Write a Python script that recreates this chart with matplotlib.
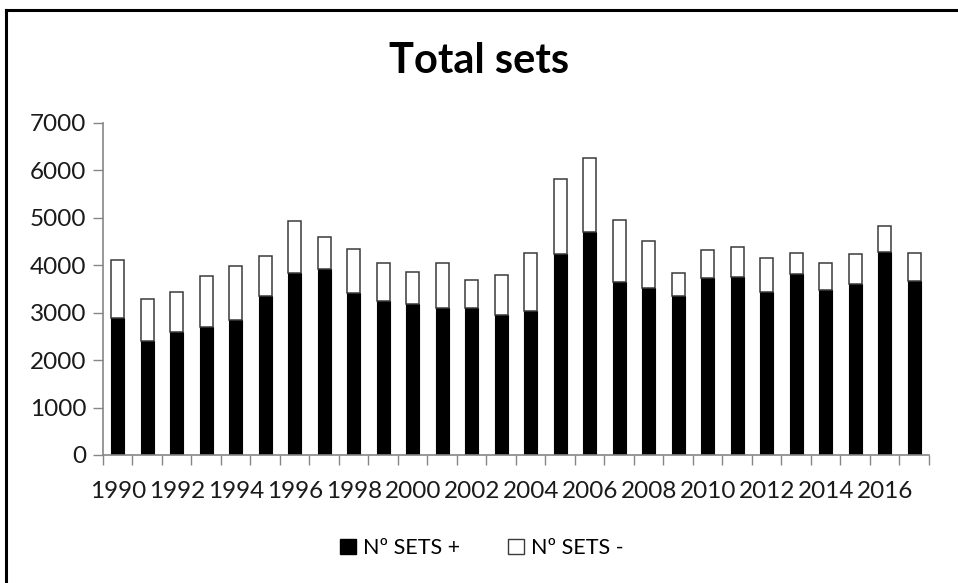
import matplotlib.pyplot as plt
import numpy as np
from matplotlib.lines import Line2D
from matplotlib.patches import Patch

plt.rcParams["font.family"] = ["Lato", "DejaVu Sans"]

years = list(range(1990, 2018))
# Nº SETS + (black part)
sets_plus = [2890, 2410, 2590, 2700, 2840, 3340, 3830, 3910, 3410, 3240,
             3180, 3100, 3100, 2940, 3030, 4230, 4690, 3640, 3510, 3340,
             3720, 3750, 3430, 3810, 3480, 3600, 4270, 3670]
# bar totals
totals = [4110, 3290, 3430, 3780, 3990, 4200, 4930, 4600, 4340, 4040,
          3850, 4040, 3690, 3800, 4250, 5820, 6250, 4960, 4500, 3830,
          4310, 4390, 4150, 4250, 4040, 4230, 4820, 4250]
sets_minus = [t - p for t, p in zip(totals, sets_plus)]

axis_grey = "#868686"

fig = plt.figure(figsize=(9.58, 5.83), dpi=100)
ax = fig.add_axes([0.1075, 0.2196, 0.8622, 0.5699])

x = np.arange(len(years))
ax.bar(x, sets_plus, width=0.43, color="black", edgecolor="black", linewidth=0.8)
ax.bar(x, sets_minus, width=0.43, bottom=sets_plus, color="white",
       edgecolor="#3a3a3a", linewidth=1.1)

ax.set_xlim(-0.5, len(years) - 0.5)
ax.set_ylim(0, 7000)
ax.set_yticks(range(0, 7001, 1000))

# tick marks between categories, labels every other year
ax.set_xticks(np.arange(-0.5, len(years), 1))
ax.set_xticklabels([])
ax.set_xticks(x[::2], minor=True)
ax.set_xticklabels([str(y) for y in years[::2]], minor=True)
ax.tick_params(axis="x", which="major", length=7, color=axis_grey, width=1)
ax.tick_params(axis="x", which="minor", length=0, pad=19, labelsize=17.5,
               labelcolor="#1a1a1a")
ax.tick_params(axis="y", length=7, color=axis_grey, width=1, pad=5,
               labelsize=17.5, labelcolor="#1a1a1a")

for s in ["top", "right"]:
    ax.spines[s].set_visible(False)
for s in ["left", "bottom"]:
    ax.spines[s].set_color(axis_grey)
    ax.spines[s].set_linewidth(1.2)

fig.text(0.5, 0.895, "Total sets", ha="center", va="center",
         fontsize=30, fontweight="bold")

handles = [Patch(facecolor="black", edgecolor="black"),
           Patch(facecolor="white", edgecolor="#3a3a3a")]
fig.legend(handles, ["Nº SETS +", "Nº SETS -"], loc="center",
           bbox_to_anchor=(0.503, 0.06), ncol=2, frameon=False, fontsize=15.5,
           handlelength=0.75, handleheight=0.75, handletextpad=0.35,
           columnspacing=2.2)

# chart border (only top and left edges are visible in the original)
fig.add_artist(Line2D([0.0063, 0.0063], [0, 0.983], color="black", linewidth=2.2))
fig.add_artist(Line2D([0.0063, 1], [0.983, 0.983], color="black", linewidth=2.2))

plt.savefig("out.png", dpi=100)
